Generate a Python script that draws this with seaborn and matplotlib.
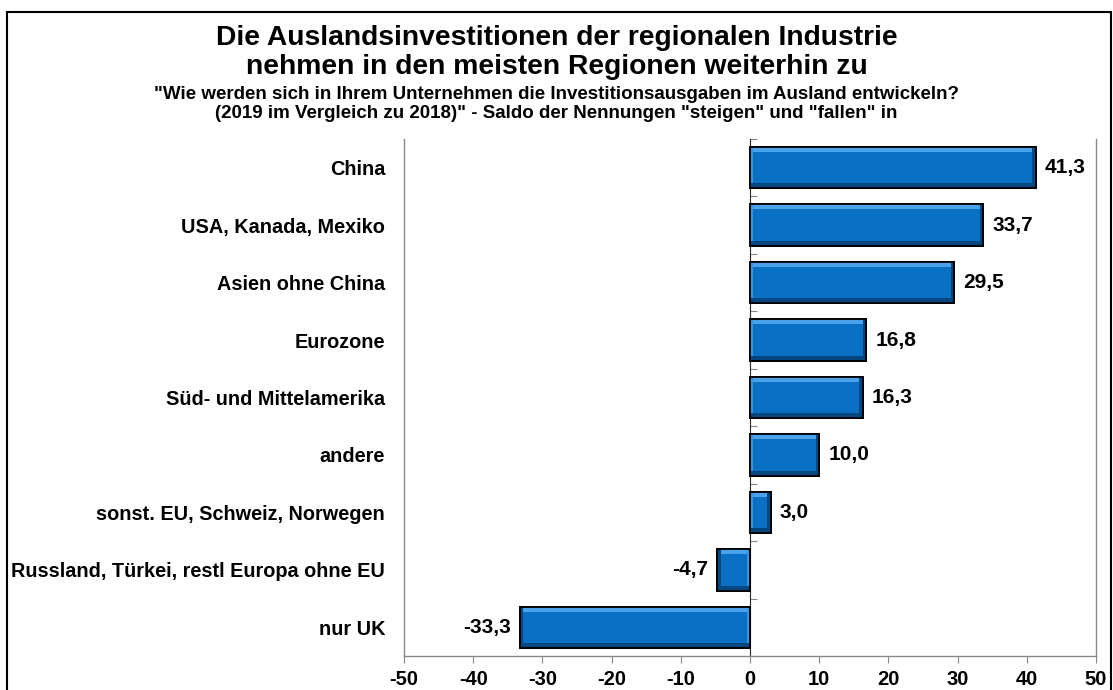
import pandas as pd
import numpy as np
import matplotlib
matplotlib.use("Agg")
import matplotlib.pyplot as plt
import seaborn as sns
from matplotlib.patches import Rectangle

# data
regions = ["China", "USA, Kanada, Mexiko", "Asien ohne China", "Eurozone",
           "Süd- und Mittelamerika", "andere", "sonst. EU, Schweiz, Norwegen",
           "Russland, Türkei, restl Europa ohne EU", "nur UK"]
saldo = [41.3, 33.7, 29.5, 16.8, 16.3, 10.0, 3.0, -4.7, -33.3]
xticks = list(range(-50, 51, 10))

title = "Die Auslandsinvestitionen der regionalen Industrie\nnehmen in den meisten Regionen weiterhin zu"
subtitle = ('"Wie werden sich in Ihrem Unternehmen die Investitionsausgaben im Ausland entwickeln?\n'
            '(2019 im Vergleich zu 2018)" - Saldo der Nennungen "steigen" und "fallen" in')

sns.set_style("white")
plt.rcParams["font.family"] = ["Liberation Sans", "DejaVu Sans"]
plt.rcParams["font.weight"] = "bold"
plt.rcParams["text.color"] = "black"
plt.rcParams["xtick.color"] = "black"
plt.rcParams["ytick.color"] = "black"

df = pd.DataFrame({"region": regions, "saldo": saldo})

fig = plt.figure(figsize=(11.13, 6.9), dpi=100)
ax = fig.add_axes([404 / 1113, 1 - 656 / 690, (1096 - 404) / 1113, (656 - 139) / 690])

sns.barplot(data=df, x="saldo", y="region", color="#0A70C4", saturation=1,
            edgecolor="black", linewidth=1.3, width=0.72, ax=ax)

# bevel look on each bar
for p in list(ax.patches):
    x0, y0, w, h = p.get_x(), p.get_y(), p.get_width(), p.get_height()
    z = p.get_zorder()
    sx = 1 if w > 0 else -1
    ax.add_patch(Rectangle((x0, y0), w, h * 0.12, color="#4AA3EA", lw=0, zorder=z + 0.1))
    ax.add_patch(Rectangle((x0, y0), sx * 0.5, h, color="#3A95DF", lw=0, zorder=z + 0.1))
    ax.add_patch(Rectangle((x0, y0 + h * 0.88), w, h * 0.12, color="#04467F", lw=0, zorder=z + 0.1))
    ax.add_patch(Rectangle((x0 + w - sx * 0.5, y0), sx * 0.5, h, color="#04467F", lw=0, zorder=z + 0.1))
    ax.add_patch(Rectangle((x0, y0), w, h, fill=False, ec="black", lw=1.3, zorder=z + 0.2))

ax.bar_label(ax.containers[0], labels=[f"{v:.1f}".replace(".", ",") for v in saldo],
             padding=6.5, fontsize=15, fontweight="bold")

ax.set_xlim(-50, 50)
ax.set_ylim(8.5, -0.5)
ax.set_xticks(xticks)
ax.set_xticklabels([str(t) for t in xticks], fontsize=14.5, fontweight="bold")
ax.set_xlabel("")
ax.set_ylabel("")
ax.tick_params(axis="x", bottom=True, length=5, color="#888888", pad=5)
ax.tick_params(axis="y", left=False, labelsize=14.3, pad=10)
for lab in ax.get_yticklabels():
    lab.set_fontweight("bold")

for side in ["left", "bottom", "right"]:
    ax.spines[side].set_color("#888888")
    ax.spines[side].set_linewidth(1)
ax.spines["top"].set_visible(False)

# zero line with category separators
zero = ax.secondary_yaxis(0.5)
zero.set_yticks(np.arange(-0.5, len(regions), 1.0))
zero.set_yticklabels([])
zero.tick_params(length=5, color="#888888")
zero.spines["left"].set_color("#888888")

fig.text(0.5, 1 - 25 / 690, title, ha="center", va="top", fontsize=20.3,
         fontweight="bold", linespacing=1.15)
fig.text(0.5, 1 - 86 / 690, subtitle, ha="center", va="top", fontsize=13.5,
         fontweight="bold", linespacing=1.18)

# outer frame
fig.patches.append(Rectangle((7 / 1113, -0.01), 1104 / 1113, 1.01 - 12 / 690,
                             transform=fig.transFigure, fill=False, ec="black", lw=1.5))

fig.savefig("out.png", dpi=100)
